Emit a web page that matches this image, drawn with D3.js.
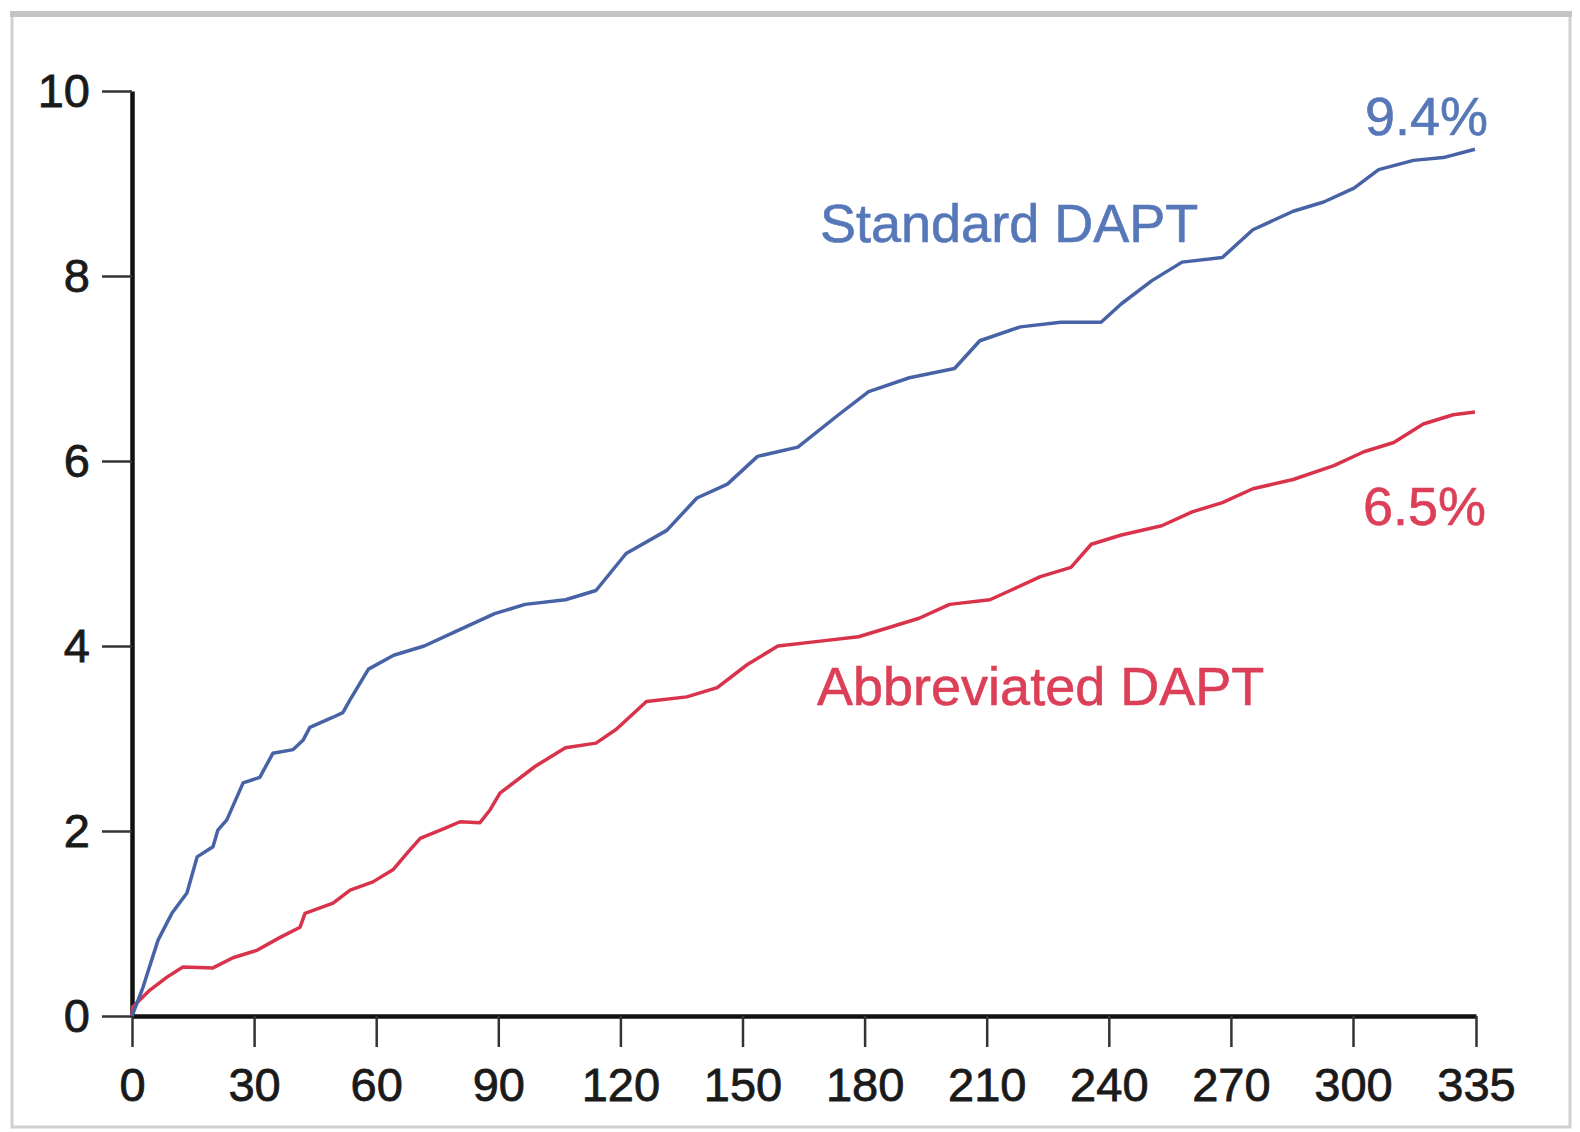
<!DOCTYPE html>
<html>
<head>
<meta charset="utf-8">
<script src="https://cdn.jsdelivr.net/npm/d3@7"></script>
<style>
  body { margin: 0; background: #fff; }
  .chart text { font-family: "Liberation Sans", Arial, Helvetica, sans-serif; }
</style>
</head>
<body>
<div class="chart"></div>
<script>
// === Data ===
const xTicks = [0, 30, 60, 90, 120, 150, 180, 210, 240, 270, 300, 335];
const yTicks = [0, 2, 4, 6, 8, 10];

// Standard DAPT cumulative event rate (%)
const standardDays = [0, 2.7, 6.4, 9.8, 13.5, 16, 19.9, 21.1, 23.3, 27.3, 31.4, 34.6, 39.6, 42, 43.7, 49.4, 51.8, 53.6,
  58.1, 64.3, 71.8, 79.2, 89.1, 96.6, 106.5, 114, 121.4, 131.4, 138.8, 146.3, 153.7, 163.6, 173.6, 181, 191,
  202.1, 208.3, 218.3, 228.2, 238.1, 243.1, 250.6, 258, 267.9, 275.4, 285.3, 292.8, 300.3, 307.3, 317.2, 325.7, 334.7];
const standardRate = [0, 0.31, 0.82, 1.11, 1.33, 1.72, 1.83, 2.01, 2.12, 2.52, 2.58, 2.84, 2.88, 2.98, 3.12, 3.23, 3.28, 3.42,
  3.75, 3.9, 4.0, 4.15, 4.35, 4.45, 4.5, 4.6, 5.0, 5.25, 5.6, 5.75, 6.05, 6.15, 6.5, 6.75, 6.9,
  7.0, 7.3, 7.45, 7.5, 7.5, 7.7, 7.95, 8.15, 8.2, 8.5, 8.7, 8.8, 8.95, 9.15, 9.25, 9.28, 9.37];

// Abbreviated DAPT cumulative event rate (%)
const abbreviatedDays = [0, 0.2, 4.4, 8.6, 12.5, 19.9, 24.8, 30.7, 36.4, 41.3, 42.5, 49.4, 53.6, 59.2, 64.1, 67.6, 70.8,
  77.4, 80.6, 85.5, 88, 90.4, 99.1, 106.5, 114, 119, 126.4, 136.3, 143.8, 151.2, 158.7, 168.6, 178.5, 186, 193.4,
  200.9, 210.8, 215.8, 223.2, 230.7, 235.7, 243.1, 253, 260.5, 267.9, 275.4, 285.3, 295.3, 303.1, 311.6, 320, 328.5, 334.7];
const abbreviatedRate = [0, 0.1, 0.28, 0.42, 0.53, 0.52, 0.63, 0.71, 0.85, 0.96, 1.11, 1.22, 1.36, 1.45, 1.58, 1.76, 1.92,
  2.04, 2.1, 2.09, 2.23, 2.41, 2.7, 2.9, 2.95, 3.1, 3.4, 3.45, 3.55, 3.8, 4.0, 4.05, 4.1, 4.2, 4.3,
  4.45, 4.5, 4.6, 4.75, 4.85, 5.1, 5.2, 5.3, 5.45, 5.55, 5.7, 5.8, 5.95, 6.1, 6.2, 6.4, 6.5, 6.53];

const seriesNames = ["Standard DAPT", "Abbreviated DAPT"];
const endLabels = ["9.4%", "6.5%"];

function generateChart() {
    const width = 1580, height = 1132;
    const blue = "#4763a6", red = "#d8334b";
    const blueText = "#5677b8", redText = "#dc3f58";

    const svg = d3.select(".chart").append("svg")
        .attr("width", width)
        .attr("height", height);

    // outer frame of the picture
    svg.append("rect")
        .attr("x", 12).attr("y", 14)
        .attr("width", 1558).attr("height", 1113)
        .attr("fill", "none")
        .attr("stroke", "#d0d0d0")
        .attr("stroke-width", 3);
    svg.append("line")
        .attr("x1", 10).attr("x2", 1572)
        .attr("y1", 14).attr("y2", 14)
        .attr("stroke", "#c4c4c4")
        .attr("stroke-width", 6);

    // === Scales ===
    // the last tick (335) sits a little closer than the 30-day spacing
    const xScale = d3.scaleLinear()
        .domain([0, 300, 335])
        .range([132, 1353, 1476]);

    const yScale = d3.scaleLinear()
        .domain([0, 10])
        .range([1016, 91]);

    // === Axes ===
    const xAxis = d3.axisBottom(xScale)
        .tickValues(xTicks)
        .tickSize(31)
        .tickSizeOuter(0)
        .tickPadding(21)
        .tickFormat(d3.format("d"));

    const yAxis = d3.axisLeft(yScale)
        .tickValues(yTicks)
        .tickSize(30)
        .tickSizeOuter(0)
        .tickPadding(12)
        .tickFormat(d3.format("d"));

    const gx = svg.append("g")
        .attr("class", "axis x-axis")
        .attr("transform", `translate(0, ${yScale(0)})`)
        .call(xAxis);

    const gy = svg.append("g")
        .attr("class", "axis y-axis")
        .attr("transform", `translate(${xScale(0)}, 0)`)
        .call(yAxis);

    [gx, gy].forEach(g => {
        g.select(".domain").attr("stroke", "#111").attr("stroke-width", 4.5);
        g.selectAll(".tick line").attr("stroke", "#333").attr("stroke-width", 2.5);
        g.selectAll(".tick text")
            .attr("fill", "#1a1a1a")
            .attr("stroke", "#1a1a1a")
            .attr("stroke-width", 0.8)
            .attr("font-size", "47px");
    });

    // === Curves ===
    const line = d3.line()
        .x(d => xScale(d[0]))
        .y(d => yScale(d[1]))
        .curve(d3.curveLinear);

    const standard = standardDays.map((d, i) => [d, standardRate[i]]);
    const abbreviated = abbreviatedDays.map((d, i) => [d, abbreviatedRate[i]]);

    svg.append("path")
        .datum(abbreviated)
        .attr("fill", "none")
        .attr("stroke", red)
        .attr("stroke-width", 3.5)
        .attr("stroke-linejoin", "round")
        .attr("d", line);

    svg.append("path")
        .datum(standard)
        .attr("fill", "none")
        .attr("stroke", blue)
        .attr("stroke-width", 3.5)
        .attr("stroke-linejoin", "round")
        .attr("d", line);

    // === Labels ===
    const labelStyle = (sel, color, size) => sel
        .attr("fill", color)
        .attr("stroke", color)
        .attr("stroke-width", 0.6)
        .attr("font-size", size);

    svg.append("text")
        .attr("x", 820).attr("y", 242)
        .call(labelStyle, blueText, "54px")
        .text(seriesNames[0]);

    svg.append("text")
        .attr("x", 817).attr("y", 705)
        .call(labelStyle, redText, "54px")
        .text(seriesNames[1]);

    svg.append("text")
        .attr("x", 1488).attr("y", 135)
        .attr("text-anchor", "end")
        .call(labelStyle, blueText, "54px")
        .text(endLabels[0]);

    svg.append("text")
        .attr("x", 1486).attr("y", 525)
        .attr("text-anchor", "end")
        .call(labelStyle, redText, "54px")
        .text(endLabels[1]);
}

generateChart();
</script>
</body>
</html>
